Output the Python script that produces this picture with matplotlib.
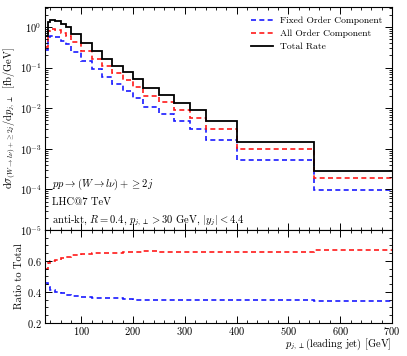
import numpy as np
import matplotlib
matplotlib.use("Agg")
import matplotlib.pyplot as plt
from matplotlib.ticker import MultipleLocator, LogLocator, NullFormatter, FixedLocator

plt.rcParams['font.family'] = 'cmr10'
plt.rcParams['mathtext.fontset'] = 'cm'
plt.rcParams['axes.formatter.use_mathtext'] = True
plt.rcParams['font.size'] = 7.5

# bin edges in GeV
edges = [30, 35, 40, 50, 60, 70, 80, 100, 120, 140, 160, 180, 200, 220, 250,
         280, 310, 340, 400, 550, 700]
# total rate [fb/GeV]
total = [0.60, 1.35, 1.48, 1.40, 1.18, 0.98, 0.66, 0.40, 0.25, 0.167, 0.11,
         0.076, 0.052, 0.031, 0.021, 0.0135, 0.0089, 0.0048, 0.0015, 0.00028]
# fixed order component [fb/GeV]
fixed = [0.276, 0.58, 0.613, 0.564, 0.463, 0.376, 0.2475, 0.147, 0.091, 0.0605,
         0.0396, 0.0271, 0.01815, 0.0108, 0.00733, 0.00471, 0.00311, 0.001675,
         0.000524, 0.0000958]
# all order component [fb/GeV]
allord = [0.33, 0.79, 0.888, 0.853, 0.732, 0.613, 0.42, 0.258, 0.163, 0.109,
          0.072, 0.0498, 0.0343, 0.0205, 0.01386, 0.00891, 0.00587, 0.00316,
          0.000989, 0.000187]

edges_a = np.array(edges, dtype=float)
total_a = np.array(total)
fixed_a = np.array(fixed)
all_a = np.array(allord)

fig = plt.figure(figsize=(4.07, 3.56), dpi=100)
ax = fig.add_axes([0.1106, 0.354, 0.8524, 0.626])
axr = fig.add_axes([0.1106, 0.0927, 0.8524, 0.2613], sharex=ax)

blue = '#1a1aff'
red = '#ff1a1a'

ax.stairs(fixed_a, edges_a, baseline=None, color=blue, ls=(0, (3, 2)), lw=1.2,
          label='Fixed Order Component')
ax.stairs(all_a, edges_a, baseline=None, color=red, ls=(0, (3, 2)), lw=1.2,
          label='All Order Component')
ax.stairs(total_a, edges_a, baseline=None, color='black', lw=1.3,
          label='Total Rate')

ax.set_yscale('log')
ax.set_ylim(1e-5, 3.1)
ax.set_xlim(30, 700)

ax.yaxis.set_major_locator(LogLocator(base=10, numticks=10))
ax.yaxis.set_minor_locator(LogLocator(base=10, subs=np.arange(2, 10), numticks=20))
ax.yaxis.set_minor_formatter(NullFormatter())
ax.xaxis.set_major_locator(MultipleLocator(100))
ax.xaxis.set_minor_locator(MultipleLocator(20))
plt.setp(ax.get_xticklabels(), visible=False)

for a in (ax, axr):
    a.tick_params(which='both', direction='in', top=True, right=True)
    a.tick_params(which='major', length=5, width=0.7, pad=2.5)
    a.tick_params(which='minor', length=2.5, width=0.6)
    for s in a.spines.values():
        s.set_linewidth(0.8)
axr.tick_params(axis='x', which='major', pad=1.8)

ax.set_ylabel(r'$\mathrm{d}\sigma_{(W\to l\nu)+\geq 2j}/\mathrm{d}p_{j,\perp}\ \ [\mathrm{fb}/\mathrm{GeV}]$',
              labelpad=2)

leg = ax.legend(loc='upper right', frameon=False, fontsize=6.9,
                handlelength=2.3, borderaxespad=0.6, borderpad=0.4,
                labelspacing=0.45, handletextpad=0.75)

ann_fs = 7.6
ax.text(0.02, 0.192, r'$pp\to(W\to l\nu)+\geq 2j$', transform=ax.transAxes,
        fontsize=ann_fs)
ax.text(0.02, 0.113, 'LHC@7 TeV', transform=ax.transAxes, fontsize=ann_fs)
ax.text(0.02, 0.033, r'anti-kt, $R=0.4$, $p_{j,\perp}>30$ GeV, $|y_j|<4.4$',
        transform=ax.transAxes, fontsize=ann_fs)

axr.stairs(fixed_a / total_a, edges_a, baseline=None, color=blue,
           ls=(0, (3, 2)), lw=1.2)
axr.stairs(all_a / total_a, edges_a, baseline=None, color=red,
           ls=(0, (3, 2)), lw=1.2)
axr.set_ylim(0.2, 0.8)
axr.yaxis.set_major_locator(FixedLocator([0.2, 0.4, 0.6]))
axr.yaxis.set_minor_locator(MultipleLocator(0.05))
axr.set_ylabel('Ratio to Total', labelpad=2)
xl = axr.set_xlabel(r'$p_{j,\perp}$(leading jet) [GeV]', loc='right')
axr.xaxis.set_label_coords(1.0, -0.225)
xl.set_va('center')

fig.savefig('out.png', dpi=100)
